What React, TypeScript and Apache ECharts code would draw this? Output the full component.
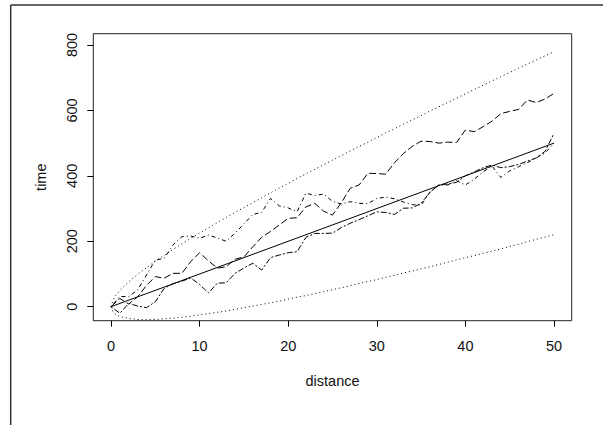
import React, { useEffect, useRef } from "react";
import * as echarts from "echarts";

// distance steps for the simulated walks
const distance = [
  0, 1, 2, 3, 4, 5, 6, 7, 8, 9, 10, 11, 12, 13, 14, 15, 16, 17, 18, 19, 20,
  21, 22, 23, 24, 25, 26, 27, 28, 29, 30, 31, 32, 33, 34, 35, 36, 37, 38, 39, 40,
  41, 42, 43, 44, 45, 46, 47, 48, 49, 50,
];

// long-dashed walk (ends highest)
const walkLongDash = [
  0, 25, 8, 30, 65, 92, 87, 102, 102, 138, 165, 140, 118, 122, 145, 152, 183, 212, 230, 250, 270,
  272, 305, 316, 292, 280, 318, 362, 372, 408, 407, 405, 440, 468, 490, 506, 505, 500, 503, 502, 540,
  535, 550, 567, 590, 597, 603, 632, 624, 635, 652,
];

// dot-dash walk (high early)
const walkDotDash = [
  0, 31, 31, 51, 97, 142, 148, 189, 214, 216, 209, 219, 210, 200, 225, 253, 282, 288, 331, 308, 302,
  290, 347, 340, 344, 322, 314, 321, 316, 315, 331, 335, 330, 320, 312, 310, 350, 372, 372, 385, 372,
  390, 412, 430, 395, 415, 428, 440, 455, 470, 500,
];

// two-dash walk (low early)
const walkTwoDash = [
  0, -20, 10, 2, -3, 15, 56, 70, 78, 88, 68, 42, 72, 73, 102, 118, 133, 112, 150, 158, 165,
  168, 212, 224, 224, 225, 242, 255, 266, 278, 290, 288, 282, 301, 302, 316, 350, 372, 375, 380, 400,
  412, 425, 433, 425, 428, 435, 445, 455, 475, 530,
];

// expected time line
const expectedX = [0, 50];
const expectedY = [0, 500];

// dotted envelope
const bandX = [
  0, 0.25, 0.5, 1, 2, 3, 4, 5, 6, 7, 8, 9, 10, 11, 12, 13, 14, 15, 16, 17, 18, 19, 20,
  21, 22, 23, 24, 25, 26, 27, 28, 29, 30, 31, 32, 33, 34, 35, 36, 37, 38, 39, 40,
  41, 42, 43, 44, 45, 46, 47, 48, 49, 50,
];
const bandUpper = [
  0, 22, 33, 50, 76, 99, 119, 139, 157, 175, 192, 209, 225, 241, 257, 273, 288, 303, 318, 333, 348, 363, 377,
  392, 406, 420, 434, 448, 462, 476, 490, 503, 517, 531, 544, 558, 571, 584, 598, 611, 624, 637, 651,
  664, 677, 690, 703, 716, 729, 742, 754, 767, 780,
];
const bandLower = [
  0, -17, -23, -30, -36, -39, -39, -39, -37, -35, -32, -29, -25, -21, -17, -13, -8, -3, 2, 7, 12, 17, 23,
  29, 34, 40, 46, 52, 58, 64, 71, 77, 83, 90, 96, 103, 109, 116, 122, 129, 136, 143, 150,
  156, 163, 170, 177, 184, 191, 199, 206, 213, 220,
];

const xTicks = [0, 10, 20, 30, 40, 50];
const yTicks = [0, 200, 400, 600, 800];

export default function App() {
  const ref = useRef<HTMLDivElement>(null);

  useEffect(() => {
    const chart = echarts.init(ref.current!, null, { renderer: "svg" });
    const pairs = (xs: number[], ys: number[]) => xs.map((x, i) => [x, ys[i]]);
    const font = "'Liberation Sans', Arial, Helvetica, sans-serif";
    const fontSize = 14.5;
    const textColor = "#111";
    const mk = (name: string, data: number[][], type: any) => ({
      type: "line",
      name,
      data,
      showSymbol: false,
      symbol: "none",
      silent: true,
      lineStyle: { color: "#000", width: 1, type },
    });

    chart.setOption({
      animation: false,
      backgroundColor: "#fff",
      grid: {
        left: 93.3,
        top: 33.7,
        right: 31.3,
        bottom: 104.3,
        show: true,
        borderColor: "#222",
        borderWidth: 1,
        backgroundColor: "transparent",
      },
      xAxis: {
        type: "value",
        min: -2,
        max: 52,
        name: "distance",
        nameLocation: "middle",
        nameGap: 53,
        nameTextStyle: { fontFamily: font, fontSize, color: textColor },
        axisLine: { show: false, onZero: false },
        splitLine: { show: false },
        axisTick: { show: true, length: 6, customValues: xTicks, lineStyle: { color: "#000" } },
        axisLabel: { customValues: xTicks, margin: 18, fontFamily: font, fontSize, color: textColor },
      },
      yAxis: {
        type: "value",
        min: -42.8,
        max: 834.5,
        name: "time",
        nameLocation: "middle",
        nameGap: 45,
        nameRotate: 90,
        nameTextStyle: { fontFamily: font, fontSize, color: textColor },
        axisLine: { show: false, onZero: false },
        splitLine: { show: false },
        axisTick: { show: true, length: 6, customValues: yTicks, lineStyle: { color: "#000" } },
        axisLabel: { customValues: yTicks, rotate: 90, margin: 14, fontFamily: font, fontSize, color: textColor },
      },
      graphic: [
        { type: "line", shape: { x1: 10.7, y1: 5, x2: 603, y2: 5 }, style: { stroke: "#333", lineWidth: 1.5 } },
        { type: "line", shape: { x1: 10.7, y1: 5, x2: 10.7, y2: 425 }, style: { stroke: "#333", lineWidth: 1.5 } },
      ],
      series: [
        mk("upper", pairs(bandX, bandUpper), [1, 3]),
        mk("lower", pairs(bandX, bandLower), [1, 3]),
        mk("expected", pairs(expectedX, expectedY), "solid"),
        mk("walk1", pairs(distance, walkLongDash), [7, 3]),
        mk("walk2", pairs(distance, walkDotDash), [1, 3, 4, 3]),
        mk("walk3", pairs(distance, walkTwoDash), [2, 2, 6, 2]),
      ],
    });
    return () => chart.dispose();
  }, []);

  return <div ref={ref} style={{ position: "fixed", left: 0, top: 0, width: 603, height: 425 }} />;
}
